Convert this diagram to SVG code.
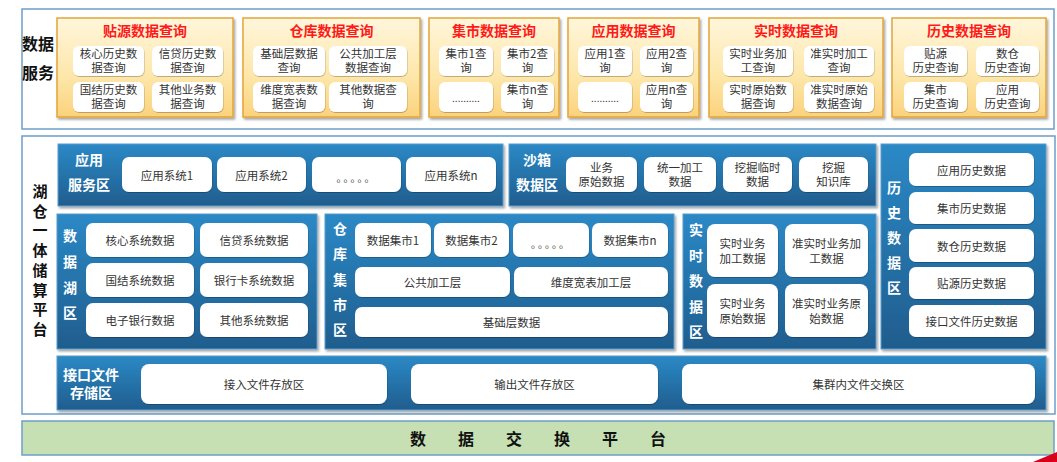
<svg xmlns="http://www.w3.org/2000/svg" width="1057" height="462" viewBox="0 0 1057 462">
<defs>
<linearGradient id="og" x1="0" y1="0" x2="0" y2="1"><stop offset="0" stop-color="#fff6dc"/><stop offset="0.6" stop-color="#fde6a8"/><stop offset="1" stop-color="#fbd27c"/></linearGradient>
<linearGradient id="bg" x1="0" y1="0" x2="0" y2="1"><stop offset="0" stop-color="#2b89c6"/><stop offset="1" stop-color="#1f5d8e"/></linearGradient>
<filter id="sh" x="-5%" y="-5%" width="110%" height="115%"><feDropShadow dx="1.5" dy="2" stdDeviation="1.2" flood-color="#000" flood-opacity="0.35"/></filter>
<filter id="sw" x="-5%" y="-5%" width="110%" height="120%"><feDropShadow dx="0.5" dy="1" stdDeviation="0.6" flood-color="#000" flood-opacity="0.25"/></filter>
</defs>
<style>
text{font-family:"Noto Sans CJK SC","Liberation Sans",sans-serif;dominant-baseline:central;text-anchor:middle}
.outer{fill:#fff;stroke:#6d9fc8;stroke-width:1.5}
.op{fill:url(#og);stroke:#e3a53a;stroke-width:1.5;filter:url(#sh)}
.bp{fill:url(#bg);stroke:#5d9ccb;stroke-width:1;filter:url(#sh)}
.wb{fill:#fff;filter:url(#sw)}
.t{font-size:11.5px;fill:#333}
.rt{font-size:14px;font-weight:bold;fill:#ff1a1a}
.bl{font-size:14px;font-weight:bold;fill:#fff}
.bk{font-size:16px;font-weight:bold;fill:#111}
</style>
<rect width="1057" height="462" fill="#fff"/>

<g id="data-services">
<rect class="outer" x="22" y="9" width="1032" height="120"/>
<text class="bk" x="38" y="43">数据<tspan x="38" dy="29">服务</tspan></text>
</g>

<g id="q-tieyuan">
<rect class="op" x="57" y="18" width="176" height="99"/>
<text class="rt" x="145" y="30">贴源数据查询</text>
<rect class="wb" x="73" y="46" width="71" height="30" rx="6"/>
<text class="t" x="108.5" y="53">核心历史数<tspan x="108.5" dy="14">据查询</tspan></text>
<rect class="wb" x="152" y="46" width="71" height="30" rx="6"/>
<text class="t" x="187.5" y="53">信贷历史数<tspan x="187.5" dy="14">据查询</tspan></text>
<rect class="wb" x="73" y="82" width="71" height="30" rx="6"/>
<text class="t" x="108.5" y="89">国结历史数<tspan x="108.5" dy="14">据查询</tspan></text>
<rect class="wb" x="152" y="82" width="71" height="30" rx="6"/>
<text class="t" x="187.5" y="89">其他业务数<tspan x="187.5" dy="14">据查询</tspan></text>
</g>

<g id="q-cangku">
<rect class="op" x="243" y="18" width="177" height="99"/>
<text class="rt" x="331.5" y="30">仓库数据查询</text>
<rect class="wb" x="253" y="46" width="72" height="30" rx="6"/>
<text class="t" x="289" y="53">基础层数据<tspan x="289" dy="14">查询</tspan></text>
<rect class="wb" x="329" y="46" width="78" height="30" rx="6"/>
<text class="t" x="368" y="53">公共加工层<tspan x="368" dy="14">数据查询</tspan></text>
<rect class="wb" x="253" y="82" width="72" height="30" rx="6"/>
<text class="t" x="289" y="89">维度宽表数<tspan x="289" dy="14">据查询</tspan></text>
<rect class="wb" x="329" y="82" width="78" height="30" rx="6"/>
<text class="t" x="368" y="89">其他数据查<tspan x="368" dy="14">询</tspan></text>
</g>

<g id="q-jishi">
<rect class="op" x="429" y="18" width="130" height="99"/>
<text class="rt" x="494" y="30">集市数据查询</text>
<rect class="wb" x="439" y="46" width="54" height="30" rx="6"/>
<text class="t" x="466" y="53">集市1查<tspan x="466" dy="14">询</tspan></text>
<rect class="wb" x="501" y="46" width="53" height="30" rx="6"/>
<text class="t" x="527.5" y="53">集市2查<tspan x="527.5" dy="14">询</tspan></text>
<rect class="wb" x="439" y="82" width="54" height="30" rx="6"/>
<text class="t" x="466" y="97" style="font-size:10px">..........</text>
<rect class="wb" x="501" y="82" width="53" height="30" rx="6"/>
<text class="t" x="527.5" y="89">集市n查<tspan x="527.5" dy="14">询</tspan></text>
</g>

<g id="q-yingyong">
<rect class="op" x="568" y="18" width="131" height="99"/>
<text class="rt" x="633.5" y="30">应用数据查询</text>
<rect class="wb" x="578" y="46" width="54" height="30" rx="6"/>
<text class="t" x="605" y="53">应用1查<tspan x="605" dy="14">询</tspan></text>
<rect class="wb" x="640" y="46" width="53" height="30" rx="6"/>
<text class="t" x="666.5" y="53">应用2查<tspan x="666.5" dy="14">询</tspan></text>
<rect class="wb" x="578" y="82" width="54" height="30" rx="6"/>
<text class="t" x="605" y="97" style="font-size:10px">..........</text>
<rect class="wb" x="640" y="82" width="53" height="30" rx="6"/>
<text class="t" x="666.5" y="89">应用n查<tspan x="666.5" dy="14">询</tspan></text>
</g>

<g id="q-shishi">
<rect class="op" x="709" y="18" width="174" height="99"/>
<text class="rt" x="796" y="30">实时数据查询</text>
<rect class="wb" x="723" y="46" width="70" height="30" rx="6"/>
<text class="t" x="758" y="53">实时业务加<tspan x="758" dy="14">工查询</tspan></text>
<rect class="wb" x="804" y="46" width="70" height="30" rx="6"/>
<text class="t" x="839" y="53">准实时加工<tspan x="839" dy="14">查询</tspan></text>
<rect class="wb" x="723" y="82" width="70" height="30" rx="6"/>
<text class="t" x="758" y="89">实时原始数<tspan x="758" dy="14">据查询</tspan></text>
<rect class="wb" x="804" y="82" width="70" height="30" rx="6"/>
<text class="t" x="839" y="89">准实时原始<tspan x="839" dy="14">数据查询</tspan></text>
</g>

<g id="q-lishi">
<rect class="op" x="892" y="18" width="154" height="99"/>
<text class="rt" x="969" y="30">历史数据查询</text>
<rect class="wb" x="904" y="46" width="63" height="30" rx="6"/>
<text class="t" x="935.5" y="53">贴源<tspan x="935.5" dy="14">历史查询</tspan></text>
<rect class="wb" x="976" y="46" width="63" height="30" rx="6"/>
<text class="t" x="1007.5" y="53">数仓<tspan x="1007.5" dy="14">历史查询</tspan></text>
<rect class="wb" x="904" y="82" width="63" height="30" rx="6"/>
<text class="t" x="935.5" y="89">集市<tspan x="935.5" dy="14">历史查询</tspan></text>
<rect class="wb" x="976" y="82" width="63" height="30" rx="6"/>
<text class="t" x="1007.5" y="89">应用<tspan x="1007.5" dy="14">历史查询</tspan></text>
</g>

<g id="platform">
<rect class="outer" x="22" y="136" width="1033" height="278"/>
<text class="bk" x="40" y="190" style="font-size:15px">湖<tspan x="40" dy="19.7">仓</tspan><tspan x="40" dy="19.7">一</tspan><tspan x="40" dy="19.7">体</tspan><tspan x="40" dy="19.7">储</tspan><tspan x="40" dy="19.7">算</tspan><tspan x="40" dy="19.7">平</tspan><tspan x="40" dy="19.7">台</tspan></text>
</g>

<g id="app-zone">
<rect class="bp" x="58" y="144" width="445" height="62"/>
<text class="bl" x="89" y="159">应用<tspan x="89" dy="25">服务区</tspan></text>
<rect class="wb" x="122" y="157" width="90" height="35" rx="7"/>
<text class="t" x="167" y="174.5">应用系统1</text>
<rect class="wb" x="217" y="157" width="89" height="35" rx="7"/>
<text class="t" x="261.5" y="174.5">应用系统2</text>
<rect class="wb" x="312" y="157" width="89" height="35" rx="7"/>
<text class="t" x="356.5" y="177" style="font-size:10px;letter-spacing:2px">。。。。。</text>
<rect class="wb" x="406" y="157" width="90" height="35" rx="7"/>
<text class="t" x="451" y="174.5">应用系统n</text>
</g>

<g id="sandbox-zone">
<rect class="bp" x="509" y="144" width="367" height="62"/>
<text class="bl" x="537" y="159">沙箱<tspan x="537" dy="25">数据区</tspan></text>
<rect class="wb" x="566" y="157" width="71" height="35" rx="7"/>
<text class="t" x="601.5" y="167">业务<tspan x="601.5" dy="14">原始数据</tspan></text>
<rect class="wb" x="644" y="157" width="72" height="35" rx="7"/>
<text class="t" x="680" y="167">统一加工<tspan x="680" dy="14">数据</tspan></text>
<rect class="wb" x="723" y="157" width="69" height="35" rx="7"/>
<text class="t" x="757.5" y="167">挖掘临时<tspan x="757.5" dy="14">数据</tspan></text>
<rect class="wb" x="799" y="157" width="69" height="35" rx="7"/>
<text class="t" x="833.5" y="167">挖掘<tspan x="833.5" dy="14">知识库</tspan></text>
</g>

<g id="history-zone">
<rect class="bp" x="881" y="144" width="165" height="205"/>
<text class="bl" x="894" y="187">历<tspan x="894" dy="25">史</tspan><tspan x="894" dy="25">数</tspan><tspan x="894" dy="25">据</tspan><tspan x="894" dy="25">区</tspan></text>
<rect class="wb" x="909" y="153" width="125" height="33" rx="7"/>
<text class="t" x="971.5" y="169.5">应用历史数据</text>
<rect class="wb" x="909" y="192" width="125" height="32" rx="7"/>
<text class="t" x="971.5" y="208">集市历史数据</text>
<rect class="wb" x="909" y="229" width="125" height="33" rx="7"/>
<text class="t" x="971.5" y="245.5">数仓历史数据</text>
<rect class="wb" x="909" y="267" width="125" height="32" rx="7"/>
<text class="t" x="971.5" y="283">贴源历史数据</text>
<rect class="wb" x="909" y="305" width="125" height="32" rx="7"/>
<text class="t" x="971.5" y="321">接口文件历史数据</text>
</g>

<g id="lake-zone">
<rect class="bp" x="57" y="214" width="260" height="135"/>
<text class="bl" x="70" y="235">数<tspan x="70" dy="26">据</tspan><tspan x="70" dy="26">湖</tspan><tspan x="70" dy="25">区</tspan></text>
<rect class="wb" x="86" y="223" width="108" height="34" rx="7"/>
<text class="t" x="140" y="240">核心系统数据</text>
<rect class="wb" x="200" y="223" width="108" height="34" rx="7"/>
<text class="t" x="254" y="240">信贷系统数据</text>
<rect class="wb" x="86" y="263" width="108" height="34" rx="7"/>
<text class="t" x="140" y="280">国结系统数据</text>
<rect class="wb" x="200" y="263" width="108" height="34" rx="7"/>
<text class="t" x="254" y="280">银行卡系统数据</text>
<rect class="wb" x="86" y="303" width="108" height="34" rx="7"/>
<text class="t" x="140" y="320">电子银行数据</text>
<rect class="wb" x="200" y="303" width="108" height="34" rx="7"/>
<text class="t" x="254" y="320">其他系统数据</text>
</g>

<g id="warehouse-zone">
<rect class="bp" x="325" y="214" width="349" height="135"/>
<text class="bl" x="340" y="228">仓<tspan x="340" dy="25.3">库</tspan><tspan x="340" dy="25.3">集</tspan><tspan x="340" dy="25.3">市</tspan><tspan x="340" dy="25.3">区</tspan></text>
<rect class="wb" x="355" y="223" width="76" height="34" rx="7"/>
<text class="t" x="393" y="240">数据集市1</text>
<rect class="wb" x="434" y="223" width="75" height="34" rx="7"/>
<text class="t" x="471.5" y="240">数据集市2</text>
<rect class="wb" x="513" y="223" width="76" height="34" rx="7"/>
<text class="t" x="551" y="243" style="font-size:10px;letter-spacing:2px">。。。。。</text>
<rect class="wb" x="592" y="223" width="76" height="34" rx="7"/>
<text class="t" x="630" y="240">数据集市n</text>
<rect class="wb" x="355" y="267" width="155" height="30" rx="7"/>
<text class="t" x="432.5" y="282">公共加工层</text>
<rect class="wb" x="514" y="267" width="154" height="30" rx="7"/>
<text class="t" x="591" y="282">维度宽表加工层</text>
<rect class="wb" x="355" y="307" width="313" height="30" rx="7"/>
<text class="t" x="511.5" y="322">基础层数据</text>
</g>

<g id="realtime-zone">
<rect class="bp" x="683" y="214" width="193" height="135"/>
<text class="bl" x="696" y="229">实<tspan x="696" dy="25.5">时</tspan><tspan x="696" dy="25.5">数</tspan><tspan x="696" dy="25.5">据</tspan><tspan x="696" dy="25.5">区</tspan></text>
<rect class="wb" x="707" y="224" width="71" height="53" rx="8"/>
<text class="t" x="742.5" y="243">实时业务<tspan x="742.5" dy="15">加工数据</tspan></text>
<rect class="wb" x="785" y="224" width="83" height="53" rx="8"/>
<text class="t" x="826.5" y="243">准实时业务加<tspan x="826.5" dy="15">工数据</tspan></text>
<rect class="wb" x="707" y="284" width="71" height="53" rx="8"/>
<text class="t" x="742.5" y="303">实时业务<tspan x="742.5" dy="15">原始数据</tspan></text>
<rect class="wb" x="785" y="284" width="83" height="53" rx="8"/>
<text class="t" x="826.5" y="303">准实时业务原<tspan x="826.5" dy="15">始数据</tspan></text>
</g>

<g id="interface-zone">
<rect class="bp" x="57" y="356" width="989" height="54"/>
<text class="bl" x="91" y="374">接口文件<tspan x="91" dy="18">存储区</tspan></text>
<rect class="wb" x="141" y="364" width="246" height="40" rx="8"/>
<text class="t" x="264" y="384">接入文件存放区</text>
<rect class="wb" x="411" y="364" width="247" height="40" rx="8"/>
<text class="t" x="534.5" y="384">输出文件存放区</text>
<rect class="wb" x="682" y="364" width="353" height="40" rx="8"/>
<text class="t" x="858.5" y="384">集群内文件交换区</text>
</g>

<g id="exchange">
<rect x="22" y="421" width="1032" height="34" fill="#c6e0b4" stroke="#6d9fc8" stroke-width="1.5"/>
<text class="bk" x="538" y="438" style="font-size:16px;letter-spacing:32px" dx="16">数据交换平台</text>
</g>

<polygon points="1033,462 1057,452 1057,462" fill="#d9001b"/>
<g id="connectors"/>
</svg>
